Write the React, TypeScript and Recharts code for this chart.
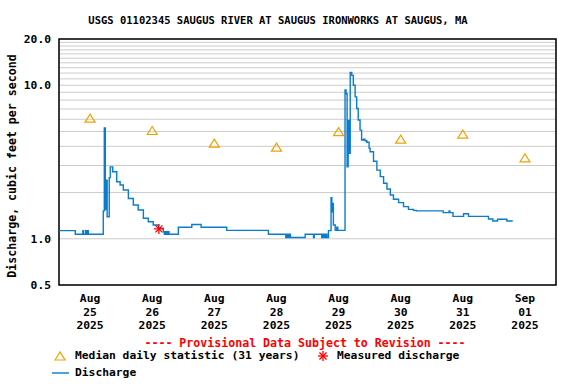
import React from "react";
import {
  ComposedChart, Line, Scatter, XAxis, YAxis, CartesianGrid, ReferenceArea,
} from "recharts";

// hours since Aug 25 00:00, discharge in ft3/s
const flowHours = [
  0, 6.3, 9.2, 9.5, 10.3, 10.6, 11.0, 11.3, 17.1, 17.5, 17.9, 18.2, 18.6, 19.4, 19.8,
  20.75, 22.3, 23.6, 24.85, 26.8, 28.7, 30.6, 32.6, 34.5, 36.4, 38.4, 40.3, 40.7, 41.2,
  41.6, 42.0, 42.5, 46.1, 51.3, 54.9, 64.8, 80.9, 87.6, 88.0, 88.5, 89.0, 89.4, 95.1,
  98.3, 98.6, 101.5, 102.0, 102.5, 103.0, 103.5, 104.1, 105.1, 105.4, 105.7, 106.0,
  106.7, 107.3, 107.7, 110.5, 110.9, 111.3, 111.7, 112.1, 112.5, 113.1, 113.7, 114.4,
  115.0, 115.6, 116.3, 116.9, 117.6, 118.2, 118.9, 119.8, 120.2, 121.5, 122.8, 124.1,
  125.4, 126.7, 128.0, 129.2, 131.2, 133.1, 135.0, 136.9, 138.0, 148.4, 150.7, 151.0,
  152.2, 156.3, 158.2, 165.9, 167.6, 169.4, 173.0, 175.3,
];
const flowValues = [
  1.13, 1.07, 1.13, 1.07, 1.13, 1.07, 1.13, 1.07, 1.52, 5.26, 1.55, 2.41, 1.39, 2.5, 2.94,
  2.73, 2.35, 2.24, 2.08, 1.83, 1.66, 1.54, 1.36, 1.29, 1.23, 1.17, 1.11, 1.07, 1.11,
  1.07, 1.11, 1.07, 1.19, 1.24, 1.19, 1.135, 1.07, 1.02, 1.07, 1.02, 1.07, 1.02, 1.07,
  1.02, 1.07, 1.02, 1.07, 1.02, 1.07, 1.02, 1.13, 1.85, 1.5, 1.7, 1.23,
  1.135, 1.19, 1.135, 9.3, 8.8, 2.94, 5.9, 3.6, 12.1, 11.6, 10.0, 8.4,
  7.06, 5.93, 5.1, 4.4, 4.45, 4.35, 4.25, 3.88, 3.69, 3.2, 2.8, 2.54,
  2.3, 2.11, 1.93, 1.81, 1.72, 1.62, 1.555, 1.53, 1.52, 1.48, 1.52, 1.48,
  1.4, 1.456, 1.4, 1.345, 1.305, 1.34, 1.305, 1.305,
];

const medianHours = [12, 36, 60, 84, 108, 132, 156, 180];
const medianValues = [6.1, 5.07, 4.2, 3.95, 4.99, 4.46, 4.8, 3.36];

const measuredHours = [38.6];
const measuredValues = [1.16];

const labelHours = [12, 36, 60, 84, 108, 132, 156, 180];
const labelMonths = ["Aug", "Aug", "Aug", "Aug", "Aug", "Aug", "Aug", "Sep"];
const labelDays = ["25", "26", "27", "28", "29", "30", "31", "01"];
const labelYears = ["2025", "2025", "2025", "2025", "2025", "2025", "2025", "2025"];
const dayBreaks = [24, 48, 72, 96, 120, 144, 168];

const yTicks = [0.5, 1, 2, 3, 4, 5, 6, 7, 8, 9, 10, 11, 12, 13, 14, 15, 16, 17, 18, 19, 20];
const yLabeled = [0.5, 1, 10, 20];

const flow = flowHours.map((h, i) => ({ h, v: flowValues[i] }));
const medians = medianHours.map((h, i) => ({ h, v: medianValues[i] }));
const measured = measuredHours.map((h, i) => ({ h, v: measuredValues[i] }));

const FONT = "'DejaVu Sans Mono', 'Liberation Mono', monospace";
const BLUE = "#0a7ccc";
const ORANGE = "#f5a000";
const RED = "#ff0000";

const Triangle = ({ cx, cy }: any) => (
  <path d={`M${cx - 5},${cy + 4} L${cx},${cy - 4} L${cx + 5},${cy + 4} Z`} fill="none" stroke={ORANGE} strokeWidth={1.2} />
);

const Asterisk = ({ cx, cy }: any) => {
  const r = 5;
  const lines = [0, 45, 90, 135].map((a) => {
    const rad = (a * Math.PI) / 180;
    return <line key={a} x1={cx - r * Math.cos(rad)} y1={cy - r * Math.sin(rad)} x2={cx + r * Math.cos(rad)} y2={cy + r * Math.sin(rad)} stroke={RED} strokeWidth={1.3} />;
  });
  return <g>{lines}</g>;
};

const XTick = ({ x, y, payload }: any) => {
  const i = labelHours.indexOf(payload.value);
  if (i < 0) return null;
  return (
    <text x={x} textAnchor="middle" fontFamily={FONT} fontWeight="bold" fontSize={11.3} fill="#000">
      <tspan x={x} y={y + 9}>{labelMonths[i]}</tspan>
      <tspan x={x} y={y + 22.5}>{labelDays[i]}</tspan>
      <tspan x={x} y={y + 36}>{labelYears[i]}</tspan>
    </text>
  );
};

const YTick = ({ x, y, payload }: any) => {
  if (!yLabeled.includes(payload.value)) return null;
  return (
    <text x={x} y={y + 4} textAnchor="end" fontFamily={FONT} fontWeight="bold" fontSize={11.3} fill="#000">
      {payload.value.toFixed(1)}
    </text>
  );
};

const txt: React.CSSProperties = {
  position: "absolute", fontFamily: FONT, fontWeight: "bold", fontSize: 11.3, lineHeight: "12px", whiteSpace: "nowrap", color: "#000",
};

export default function App() {
  return (
    <div style={{ position: "absolute", left: 0, top: 0, width: 576, height: 384, background: "#fff" }}>
      <div style={{ ...txt, fontSize: 10.5, left: 0, width: 556, textAlign: "center", top: 14 }}>
        USGS 01102345 SAUGUS RIVER AT SAUGUS IRONWORKS AT SAUGUS, MA
      </div>
      <div style={{ ...txt, fontSize: 11.6, left: 12, top: 166, transform: "translate(-50%, -50%) rotate(-90deg)" }}>
        Discharge, cubic feet per second
      </div>
      <ComposedChart width={576} height={384} margin={{ top: 39, right: 20, left: 9, bottom: 54 }} style={{ position: "absolute", left: 0, top: 0 }}>
        <CartesianGrid xAxisId="days" stroke="#cccccc" strokeWidth={1} />
        <XAxis xAxisId={0} type="number" dataKey="h" domain={[0, 192]} ticks={labelHours} tick={<XTick />} tickLine={false} axisLine={false} height={45} interval={0} />
        <XAxis xAxisId="days" type="number" dataKey="h" domain={[0, 192]} ticks={dayBreaks} tick={false} tickLine={false} axisLine={false} height={0} interval={0} />
        <YAxis scale="log" domain={[0.5, 20]} allowDataOverflow ticks={yTicks} tick={<YTick />} tickLine={false} axisLine={false} width={50} interval={0} />
        <ReferenceArea x1={0} x2={192} y1={0.5} y2={20} fill="none" stroke="#000" strokeWidth={1.5} fillOpacity={0} />
        <Line data={flow} dataKey="v" type="stepAfter" stroke={BLUE} strokeWidth={1.4} dot={false} isAnimationActive={false} />
        <Scatter data={medians} dataKey="v" shape={<Triangle />} isAnimationActive={false} />
        <Scatter data={measured} dataKey="v" shape={<Asterisk />} isAnimationActive={false} />
      </ComposedChart>
      <div style={{ ...txt, fontSize: 11.6, color: RED, left: 0, width: 610, textAlign: "center", top: 337 }}>
        ---- Provisional Data Subject to Revision ----
      </div>
      <svg style={{ position: "absolute", left: 0, top: 0, overflow: "visible" }} width={576} height={384}>
        <Triangle cx={60} cy={356} />
        <Asterisk cx={323} cy={356} />
        <line x1={52} y1={373} x2={69} y2={373} stroke={BLUE} strokeWidth={1.4} />
      </svg>
      <div style={{ ...txt, left: 75, top: 350 }}>Median daily statistic (31 years)</div>
      <div style={{ ...txt, left: 337, top: 350 }}>Measured discharge</div>
      <div style={{ ...txt, left: 75, top: 367 }}>Discharge</div>
    </div>
  );
}
